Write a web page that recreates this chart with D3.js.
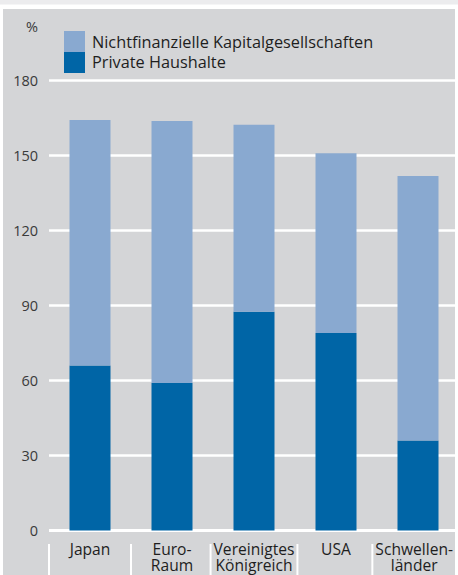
<!DOCTYPE html>
<html>
<head>
<meta charset="utf-8">
<script src="https://cdn.jsdelivr.net/npm/d3@7"></script>
<style>
html,body{margin:0;padding:0;background:#ffffff;}
svg{display:block;}
text{font-family:"Open Sans","Noto Sans",sans-serif;}
</style>
</head>
<body>
<svg id="chart" width="458" height="575"></svg>
<script>
const categories = [["Japan"], ["Euro-", "Raum"], ["Vereinigtes", "Königreich"], ["USA"], ["Schwellen-", "länder"]];
const seriesNames = ["Private Haushalte", "Nichtfinanzielle Kapitalgesellschaften"];
const households = [66, 59, 87.5, 79, 36];
const corporations = [98.2, 104.8, 74.8, 71.9, 105.8];
const yTicks = [0, 30, 60, 90, 120, 150, 180];
const unitLabel = "%";

const W = 458, H = 575;
const svg = d3.select("#chart");
const colDark = "#0065a6", colLight = "#89a9d0", panel = "#d4d5d7";

// background
svg.append("rect").attr("x",0).attr("y",0).attr("width",W).attr("height",4.5).attr("fill","#ececee");
svg.append("rect").attr("x",3).attr("y",9).attr("width",452).attr("height",H-9).attr("fill",panel);

const keys = categories.map(c => c.join(" "));
const rows = keys.map((k,i) => ({cat:k, hh:households[i], nfc:corporations[i]}));

const x = d3.scaleBand().domain(keys).range([49, 459]).paddingInner(0.5).paddingOuter(0.25);
const y = d3.scaleLinear().domain([0, 180]).range([530.5, 80.5]);

// grid lines
svg.append("g").selectAll("line").data(yTicks).join("line")
  .attr("x1", 49).attr("x2", 455)
  .attr("y1", d => y(d)).attr("y2", d => y(d))
  .attr("stroke", "#ffffff").attr("stroke-width", d => d === 0 ? 3 : 2.5);

// y tick labels
svg.append("g").selectAll("text").data(yTicks).join("text")
  .attr("x", 38).attr("y", d => y(d)).attr("dy", "0.36em")
  .attr("text-anchor", "end").attr("font-size", 14.5).attr("fill", "#3a3a3a")
  .text(d => d);
svg.append("text").attr("x", 38).attr("y", 32).attr("text-anchor", "end")
  .attr("font-size", 14.5).attr("fill", "#3a3a3a").text(unitLabel);

// stacked bars
const stack = d3.stack().keys(["hh","nfc"]);
const stacked = stack(rows);
const colors = {hh: colDark, nfc: colLight};
svg.append("g").selectAll("g").data(stacked).join("g")
  .attr("fill", d => colors[d.key])
  .selectAll("rect").data(d => d).join("rect")
  .attr("x", d => x(d.data.cat))
  .attr("width", x.bandwidth())
  .attr("y", d => y(d[1]))
  .attr("height", d => y(d[0]) - y(d[1]));

// legend
const legendItems = [{name: seriesNames[1], color: colLight}, {name: seriesNames[0], color: colDark}];
const lg = svg.append("g");
legendItems.forEach((it, i) => {
  lg.append("rect").attr("x", 64).attr("y", 31 + i*21).attr("width", 21).attr("height", 21).attr("fill", it.color);
  lg.append("text").attr("x", 92).attr("y", 47.5 + i*20).attr("font-size", 16.3).attr("fill", "#1e1e1e").text(it.name);
});

// x labels (one text element per line)
const lineData = [];
categories.forEach((c, i) => c.forEach((line, j) => lineData.push({i, j, line})));
const labelTexts = svg.append("g").selectAll("text").data(lineData).join("text")
  .attr("text-anchor", "middle").attr("font-size", 15.6).attr("fill", "#1e1e1e")
  .attr("x", d => x(keys[d.i]) + x.bandwidth()/2)
  .attr("y", d => 554.5 + d.j * 16.5)
  .text(d => d.line);

// keep labels inside the panel
labelTexts.each(function(d){
  const b = this.getBBox();
  const over = b.x + b.width - 453;
  if (over > 0) {
    d3.select(this).attr("x", +d3.select(this).attr("x") - over);
  }
});
// align second lines of the last label with its first line
const shifts = {};
labelTexts.each(function(d){ if (d.j === 0) shifts[d.i] = +d3.select(this).attr("x"); });
labelTexts.attr("x", d => shifts[d.i]);

// separators computed from band boundaries and label extents
const extents = keys.map(() => [Infinity, -Infinity]);
labelTexts.each(function(d){
  const b = this.getBBox();
  extents[d.i][0] = Math.min(extents[d.i][0], b.x);
  extents[d.i][1] = Math.max(extents[d.i][1], b.x + b.width);
});
const seps = [x.range()[0]];
for (let i = 1; i < keys.length; i++) {
  let s = x.range()[0] + i * x.step();
  const leftRight = extents[i-1][1];
  const rightLeft = extents[i][0];
  if (s < leftRight + 3) s = leftRight + 3;
  if (s > rightLeft - 3) s = rightLeft - 3;
  seps.push(s);
}
svg.append("g").selectAll("line").data(seps).join("line")
  .attr("x1", d => d).attr("x2", d => d)
  .attr("y1", 544).attr("y2", H)
  .attr("stroke", "#ffffff").attr("stroke-width", 2);
</script>
</body>
</html>
